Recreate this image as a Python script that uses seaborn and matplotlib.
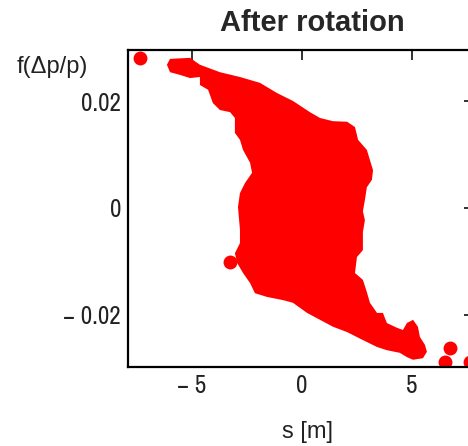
import numpy as np
import pandas as pd
import seaborn as sns
import matplotlib
matplotlib.use("Agg")
import matplotlib.pyplot as plt

# outline of the dense particle cloud, s [m] and f(dp/p)
cloud_s = [-6.14, -6.00, -5.09, -4.64, -3.73, -2.82, -1.91, -1.14, -0.41, 0.36,
           0.82, 1.41, 2.05, 2.41, 2.55, 2.95, 3.09, 3.23, 3.18, 2.95,
           2.86, 2.77, 2.86, 2.77, 2.77, 2.50, 2.41, 2.77, 2.95, 3.09,
           3.41, 3.68, 3.86, 4.32, 4.59, 4.77, 5.05, 5.27, 5.36, 5.59,
           5.68, 5.50, 5.05, 4.77, 4.45, 3.86, 3.41, 2.77, 2.05, 1.41,
           0.82, 0.23, -0.41, -0.86, -1.59, -2.14, -2.36, -2.68, -2.95, -3.05,
           -2.82, -2.82, -2.91, -2.82, -2.59, -2.27, -2.36, -2.68, -2.82, -3.05,
           -3.05, -3.27, -3.73, -4.05, -4.27, -4.64, -4.64, -5.09, -5.55, -6.00]
cloud_f = [0.0269, 0.0280, 0.0282, 0.0269, 0.0255, 0.0246, 0.0235, 0.0216, 0.0201, 0.0180,
           0.0169, 0.0163, 0.0162, 0.0152, 0.0128, 0.0109, 0.0090, 0.0071, 0.0053, 0.0039,
           0.0015, -0.0006, -0.0023, -0.0045, -0.0079, -0.0092, -0.0122, -0.0135, -0.0158, -0.0178,
           -0.0197, -0.0197, -0.0216, -0.0225, -0.0229, -0.0216, -0.0210, -0.0223, -0.0242, -0.0257,
           -0.0270, -0.0282, -0.0285, -0.0280, -0.0272, -0.0267, -0.0261, -0.0248, -0.0233, -0.0223,
           -0.0210, -0.0197, -0.0178, -0.0173, -0.0167, -0.0160, -0.0141, -0.0122, -0.0103, -0.0085,
           -0.0066, -0.0041, 0.0002, 0.0028, 0.0047, 0.0066, 0.0085, 0.0109, 0.0128, 0.0141,
           0.0169, 0.0180, 0.0184, 0.0197, 0.0222, 0.0231, 0.0246, 0.0244, 0.0250, 0.0255]

# isolated particles outside the cloud
stray_s = [-7.36, -3.27, 6.50, 6.73, 7.64]
stray_f = [0.0282, -0.0101, -0.0289, -0.0263, -0.0289]

xtick_vals = [-5, 0, 5]
xtick_labels = ["\u2212 5", "0", "5"]
ytick_vals = [-0.02, 0, 0.02]
ytick_labels = ["\u2212 0.02", "0", "0.02"]

sns.set_style("white")
plt.rcParams['font.family'] = ['Archivo Narrow', 'PT Sans Narrow', 'DejaVu Sans']

fig = plt.figure(figsize=(4.68, 4.46), dpi=100)
ax = fig.add_axes([0.2735, 0.1771, 0.7393, 0.7108])

ax.fill(cloud_s, cloud_f, color="#ff0000", linewidth=0)
stray = pd.DataFrame({"s": stray_s, "f": stray_f})
sns.scatterplot(data=stray, x="s", y="f", ax=ax, color="#ff0000", s=100,
                linewidth=0, legend=False)

ax.set_xlim(-7.91, 7.82)
ax.set_ylim(-0.02986, 0.02967)
ax.set_xticks(xtick_vals, xtick_labels)
ax.set_yticks(ytick_vals, ytick_labels)
ax.tick_params(direction="in", length=7, width=1.3, top=True, right=True,
               labelsize=18, colors="#222222", pad=5)
for sp in ax.spines.values():
    sp.set_linewidth(1.6)
    sp.set_color("black")
ax.set_xlabel("")
ax.set_ylabel("")

label_font = ['Liberation Sans', 'DejaVu Sans']
fig.text(0.667, 0.948, "After rotation", ha="center", va="center",
         fontsize=21, fontweight="bold", family=label_font)
fig.text(0.036, 0.850, "f(\u0394p/p)", ha="left", va="center", fontsize=17,
         color="#222222", family=label_font)
fig.text(0.658, 0.031, "s [m]", ha="center", va="center", fontsize=17,
         color="#222222", family=label_font)

fig.savefig("out.png", dpi=100)
